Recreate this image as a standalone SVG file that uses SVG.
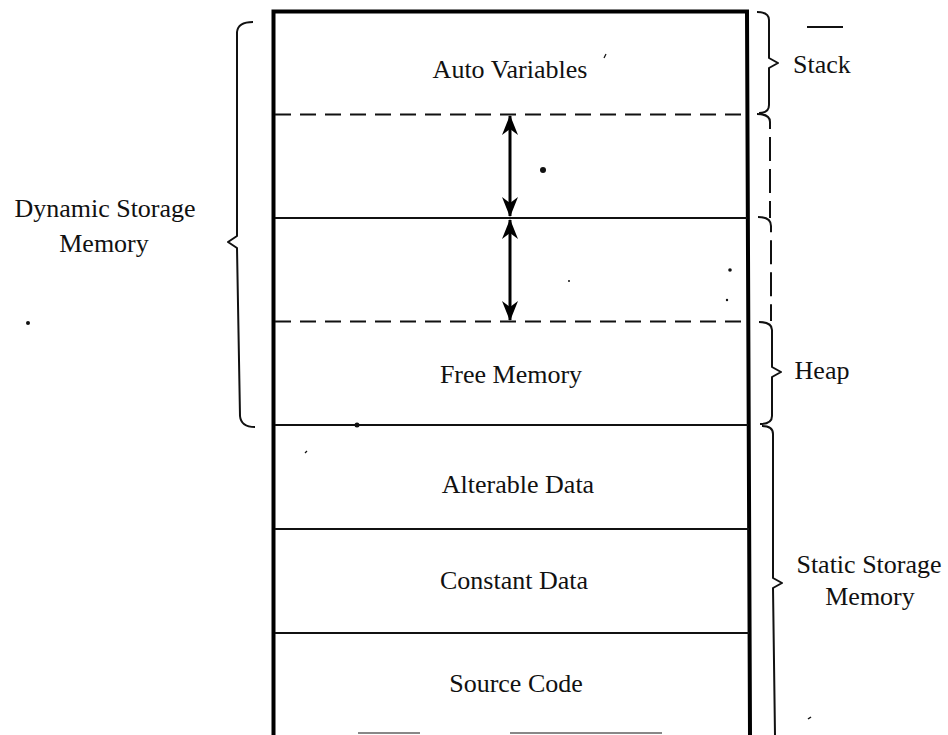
<svg xmlns="http://www.w3.org/2000/svg" width="948" height="735" viewBox="0 0 948 735">
<style>
text{font-family:"Liberation Serif","Times New Roman",serif;font-size:26px;fill:#111;text-anchor:middle}
.solid{stroke:#111;stroke-width:2;fill:none}
.dash{stroke:#111;stroke-width:2;fill:none;stroke-dasharray:16 9}
.border{stroke:#000;stroke-width:4;fill:none}
.brace{stroke:#111;stroke-width:2;fill:none;stroke-linejoin:round}
.dbrace{stroke:#111;stroke-width:2;fill:none;stroke-dasharray:24 8}
.arr{stroke:#000;stroke-width:3;fill:none}
.speck{fill:#111}
</style>
<defs>
<marker id="ah" viewBox="0 0 20 16" refX="19" refY="8" markerWidth="20" markerHeight="16" markerUnits="userSpaceOnUse" orient="auto-start-reverse">
<path d="M0,0 L20,8 L0,16 L6,8 Z" fill="#000"/>
</marker>
</defs>
<rect width="948" height="735" fill="#fff"/>

<g id="memory-box">
<path class="border" d="M273.5,735 L273.5,11.5 L747,11.5 L750,735"/>
</g>

<g id="auto-variables">
<text x="510" y="78">Auto Variables</text>
</g>
<g id="stack-growth">
<line class="dash" x1="275" y1="114.5" x2="747" y2="114.5"/>
</g>
<g id="heap-growth">
<line class="solid" x1="275" y1="218" x2="747" y2="218"/>
<line class="dash" x1="275" y1="321.5" x2="748" y2="321.5"/>
</g>
<g id="free-memory">
<text x="511" y="383">Free Memory</text>
<line class="solid" x1="275" y1="425" x2="748" y2="425"/>
</g>
<g id="alterable-data">
<text x="518" y="493">Alterable Data</text>
<line class="solid" x1="275" y1="529" x2="749" y2="529"/>
</g>
<g id="constant-data">
<text x="514" y="589">Constant Data</text>
<line class="solid" x1="275" y1="633" x2="749" y2="633"/>
</g>
<g id="source-code">
<text x="516" y="692">Source Code</text>
<line x1="358" y1="733" x2="420" y2="733" stroke="#888" stroke-width="2"/>
<line x1="510" y1="733" x2="662" y2="733" stroke="#888" stroke-width="2"/>
</g>

<g id="connectors">
<line class="arr" x1="510" y1="116" x2="510" y2="216" marker-start="url(#ah)" marker-end="url(#ah)"/>
<line class="arr" x1="510" y1="220" x2="510" y2="320" marker-start="url(#ah)" marker-end="url(#ah)"/>
</g>

<g id="dynamic-brace">
<path class="brace" d="M253,22 Q238,22 237,32 L237,236 L228,242 L237,248 L240,416 Q241,427 255,427"/>
<text x="105" y="217">Dynamic Storage</text>
<text x="104" y="252">Memory</text>
</g>

<g id="stack-brace">
<path class="brace" d="M757,12 Q769,12 769,20 L769,58 L778,63 L769,68 L769,105 Q769,113 759,113"/>
<text x="822" y="73">Stack</text>
<line x1="807" y1="27" x2="843" y2="27" stroke="#111" stroke-width="2"/>
</g>
<g id="dashed-brace-1">
<path class="dbrace" d="M757,114 Q770,114 770,122 L770,218"/>
</g>
<g id="dashed-brace-2">
<path class="dbrace" d="M758,217 Q771,217 771,226 L771,321"/>
</g>
<g id="heap-brace">
<path class="brace" d="M759,322 Q772,322 772,330 L772,367 L781,372 L772,377 L772,416 Q772,424 760,424"/>
<text x="822" y="379">Heap</text>
</g>
<g id="static-brace">
<path class="brace" d="M762,426 Q773,426 773,434 L773,578 L782,583 L773,588 L775,735"/>
<text x="869" y="573">Static Storage</text>
<text x="870" y="605">Memory</text>
</g>

<g id="specks">
<circle class="speck" cx="543" cy="170" r="3"/>
<circle class="speck" cx="28" cy="323" r="2"/>
<circle class="speck" cx="357" cy="425" r="2.5"/>
<circle class="speck" cx="730" cy="270" r="1.8"/>
<circle class="speck" cx="727" cy="300" r="1.2"/>
<circle class="speck" cx="569" cy="281" r="1"/>
<path d="M604,58 L606,54" stroke="#111" stroke-width="1.2"/>
<path d="M808,719 L811,717" stroke="#111" stroke-width="1.5"/>
<path d="M305,453 L307,451" stroke="#111" stroke-width="1.2"/>
</g>
</svg>
